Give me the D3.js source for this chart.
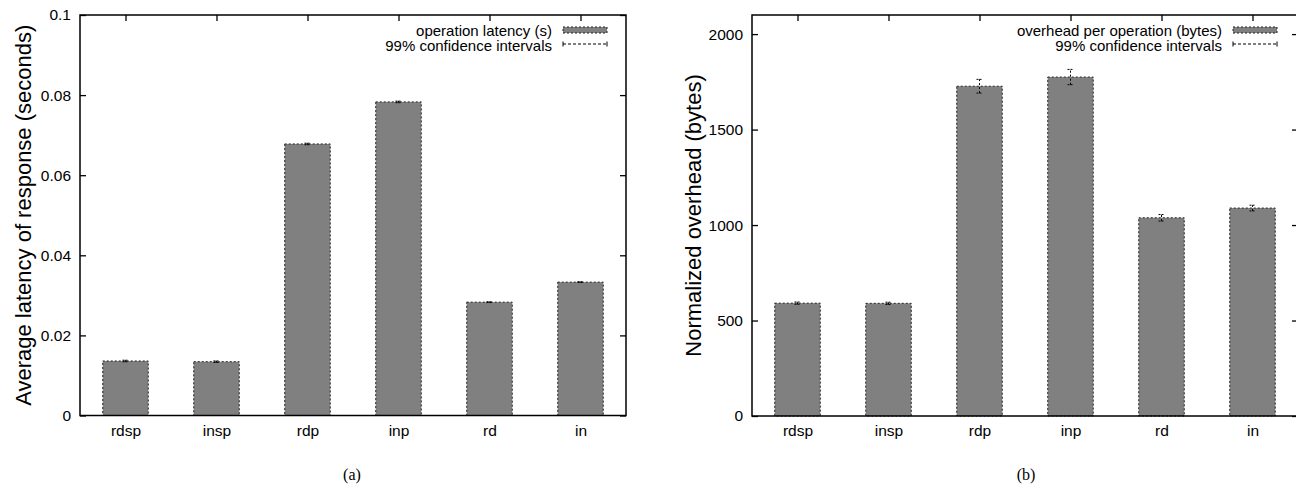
<!DOCTYPE html>
<html><head><meta charset="utf-8">
<script src="https://cdn.jsdelivr.net/npm/d3@7"></script>
<style>body{margin:0;background:#fff}svg{display:block}text{font-family:"Liberation Sans",Arial,sans-serif;fill:#000}</style>
</head><body>
<svg id="c" width="1296" height="489"></svg>
<script>
const categories = ["rdsp","insp","rdp","inp","rd","in"];
const latency = [0.01361,0.01343,0.0678,0.0783,0.0283,0.0333];
const latencyErr = [0.0002,0.0002,0.0002,0.0002,0.0001,0.0001];
const overhead = [591,590,1727,1775,1038,1089];
const overheadErr = [6,6,36,40,17,15];
const latencyTicks = [0,0.02,0.04,0.06,0.08,0.1];
const latencyTickLabels = ["0","0.02","0.04","0.06","0.08","0.1"];
const overheadTicks = [0,500,1000,1500,2000];

const svg = d3.select("#c");
const FS = "15.5px";

function panel(cfg){
  const g = svg.append("g");
  const x = d3.scaleLinear().domain([-0.5, 5.5]).range([cfg.left, cfg.right]);
  const y = d3.scaleLinear().domain([0, cfg.ymax]).range([cfg.bottom, cfg.top]);
  const bw = x(0.25) - x(0);
  g.selectAll("rect.bar").data(cfg.values).enter().append("rect")
    .attr("x",(d,i)=>x(i)-bw).attr("width",2*bw)
    .attr("y",d=>y(d)).attr("height",d=>y(0)-y(d))
    .attr("fill","#808080").attr("stroke","#222").attr("stroke-width",1)
    .attr("stroke-dasharray","2,2");
  const eg = g.selectAll("g.err").data(cfg.values).enter().append("g");
  eg.append("line").attr("x1",(d,i)=>x(i)).attr("x2",(d,i)=>x(i))
    .attr("y1",(d,i)=>y(d-cfg.errs[i])).attr("y2",(d,i)=>y(d+cfg.errs[i]))
    .attr("stroke","#000").attr("stroke-dasharray","2,2");
  [-1,1].forEach(s=>{
    eg.append("line").attr("x1",(d,i)=>x(i)-3).attr("x2",(d,i)=>x(i)+3)
      .attr("y1",(d,i)=>y(d+s*cfg.errs[i])).attr("y2",(d,i)=>y(d+s*cfg.errs[i]))
      .attr("stroke","#000").attr("stroke-dasharray","2,1");
  });
  g.append("rect").attr("x",cfg.left).attr("y",cfg.top)
    .attr("width",cfg.right-cfg.left).attr("height",cfg.bottom-cfg.top)
    .attr("fill","none").attr("stroke","#000").attr("stroke-width",1.5);
  const ya = d3.axisLeft(y).tickValues(cfg.yticks).tickSize(-6).tickPadding(9)
    .tickFormat((d,i)=>cfg.ylabels[i]);
  const yg = g.append("g").attr("transform",`translate(${cfg.left},0)`).call(ya);
  yg.select(".domain").remove();
  yg.selectAll("text").style("font-size",FS).attr("font-family","Liberation Sans, Arial, sans-serif");
  yg.selectAll("line").attr("stroke-width",1.3);
  const ya2 = d3.axisRight(y).tickValues(cfg.yticks).tickSize(-6).tickFormat("");
  const yg2 = g.append("g").attr("transform",`translate(${cfg.right},0)`).call(ya2);
  yg2.select(".domain").remove();
  yg2.selectAll("line").attr("stroke-width",1.3);
  const xa = d3.axisBottom(x).tickValues(d3.range(categories.length)).tickSize(0).tickPadding(9)
    .tickFormat(i=>categories[i]);
  const xg = g.append("g").attr("transform",`translate(0,${cfg.bottom})`).call(xa);
  xg.select(".domain").remove();
  xg.selectAll("text").style("font-size",FS).attr("font-family","Liberation Sans, Arial, sans-serif");
  const xa2 = d3.axisTop(x).tickValues(d3.range(categories.length)).tickSize(-6).tickFormat("");
  const xg2 = g.append("g").attr("transform",`translate(0,${cfg.top})`).call(xa2);
  xg2.select(".domain").remove();
  xg2.selectAll("line").attr("stroke-width",1.3);
  g.append("text").attr("transform",`translate(${cfg.titleX},${(cfg.top+cfg.bottom)/2}) rotate(-90)`)
    .attr("text-anchor","middle").attr("dominant-baseline","central")
    .style("font-size","22px").text(cfg.title);
  const lx = cfg.legendX;
  g.append("text").attr("x",lx).attr("y",36).attr("text-anchor","end").style("font-size","15px").text(cfg.legend1);
  g.append("text").attr("x",lx).attr("y",51).attr("text-anchor","end").style("font-size","15px").text("99% confidence intervals");
  g.append("rect").attr("x",lx+11).attr("y",27).attr("width",44).attr("height",6)
    .attr("fill","#808080").attr("stroke","#222").attr("stroke-dasharray","2,2");
  g.append("line").attr("x1",lx+11).attr("x2",lx+55).attr("y1",44).attr("y2",44)
    .attr("stroke","#000").attr("stroke-dasharray","3,2");
  [lx+11,lx+55].forEach(px=>g.append("line").attr("x1",px).attr("x2",px).attr("y1",41.5).attr("y2",46.5).attr("stroke","#000"));
  g.append("text").attr("x",cfg.captionX).attr("y",480).attr("text-anchor","middle")
    .style("font-family","Liberation Serif, serif")
    .style("font-size","16px").text(cfg.caption);
}

panel({left:80,right:626,top:15,bottom:415.5,ymax:0.1,values:latency,errs:latencyErr,
  yticks:latencyTicks,ylabels:latencyTickLabels,title:"Average latency of response (seconds)",titleX:23,
  legendX:552,legend1:"operation latency (s)",caption:"(a)",captionX:352});
panel({left:752,right:1298,top:15,bottom:416,ymax:2100,values:overhead,errs:overheadErr,
  yticks:overheadTicks,ylabels:overheadTicks.map(String),title:"Normalized overhead (bytes)",titleX:693,
  legendX:1222,legend1:"overhead per operation (bytes)",caption:"(b)",captionX:1026});
</script>
</body></html>
